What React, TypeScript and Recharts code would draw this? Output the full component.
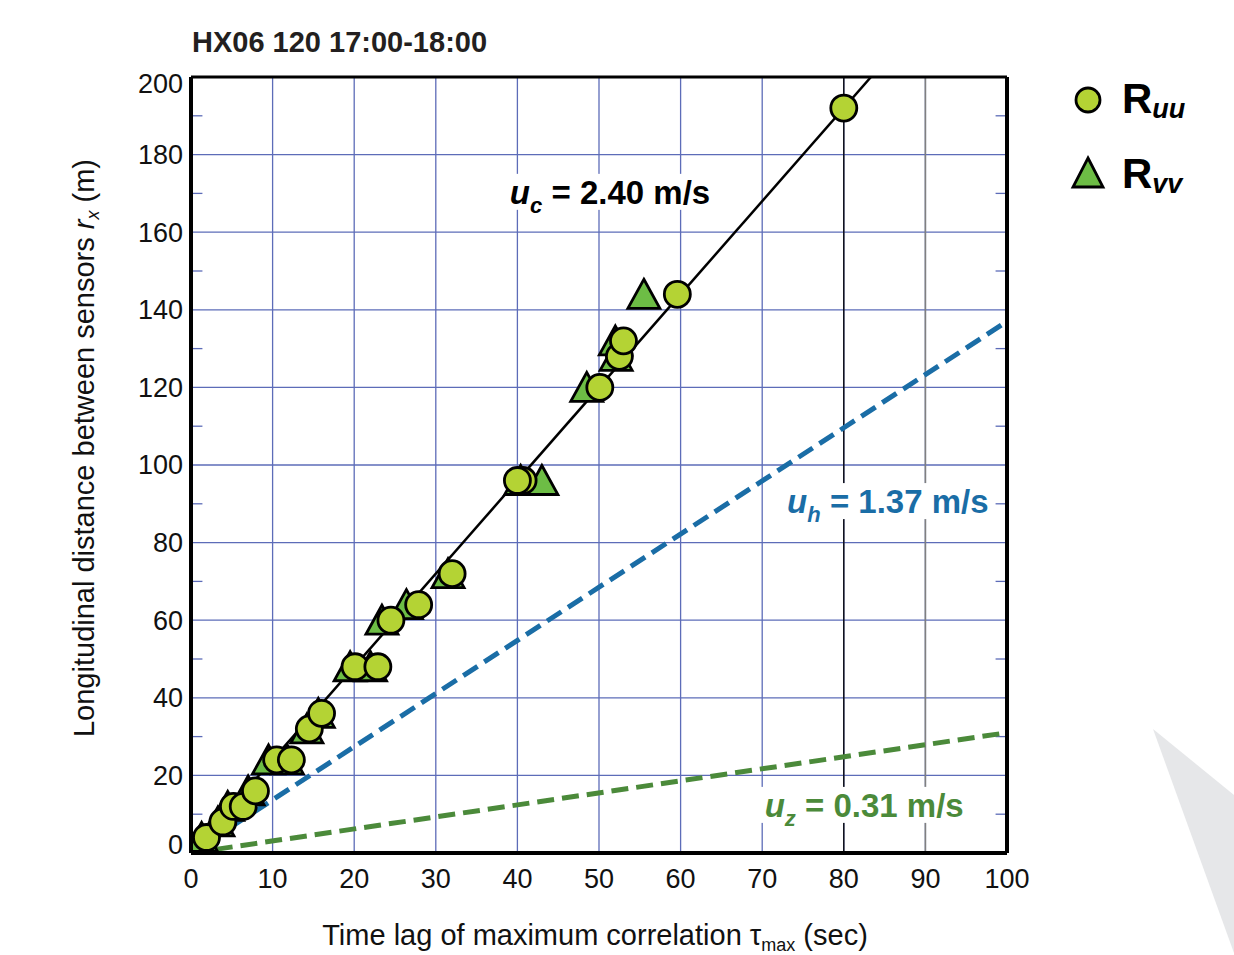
import React from 'react';
import {
  ScatterChart, Scatter, XAxis, YAxis, CartesianGrid, ReferenceLine, ReferenceDot,
} from 'recharts';

// tick values
const xTicks = [0, 10, 20, 30, 40, 50, 60, 70, 80, 90, 100];
const yTicks = [0, 20, 40, 60, 80, 100, 120, 140, 160, 180, 200];
const yMinor = [10, 30, 50, 70, 90, 110, 130, 150, 170, 190];

// R_uu: time lag (s) and sensor separation (m)
const ruuTau = [1.9, 3.9, 5.2, 6.4, 7.9, 10.5, 12.3, 14.5, 16.0, 20.1, 22.9, 24.5, 27.9, 32.0, 40.7, 40.0, 50.1, 52.5, 53.0, 59.6, 80.0];
const ruuRx = [4, 8, 12, 12, 16, 24, 24, 32, 36, 48, 48, 60, 64, 72, 96, 96, 120, 128, 132, 144, 192];

// R_vv
const rvvTau = [1.3, 3.3, 4.5, 7.0, 9.5, 11.8, 14.2, 15.6, 19.5, 22.0, 23.4, 26.4, 31.5, 40.4, 43.0, 48.5, 52.1, 52.0, 55.5];
const rvvRx = [4, 8, 12, 16, 24, 24, 32, 36, 48, 48, 60, 64, 72, 96, 96, 120, 128, 132, 144];

// convection speeds (m/s)
const ucSpeed = 2.40;
const uhSpeed = 1.37;
const uzSpeed = 0.31;

const FONT = '"Liberation Sans", Arial, Helvetica, sans-serif';
const GRID = '#5d6cb8';
const BLUE = '#1a6da6';
const GREEN = '#4b8a3a';

const ruuData = ruuTau.map((t, i) => ({ x: t, y: ruuRx[i] }));
const rvvData = rvvTau.map((t, i) => ({ x: t, y: rvvRx[i] }));
const fitLine = (u: number) => {
  const xEnd = Math.min(100, 200 / u);
  return [{ x: 0, y: 0 }, { x: xEnd, y: u * xEnd }];
};

const Circle = (p: any) => (
  <circle cx={p.cx} cy={p.cy} r={13} fill="#b4d334" stroke="#000" strokeWidth={2.8} />
);

const Triangle = (p: any) => (
  <path
    d={`M${p.cx},${p.cy - 15} L${p.cx + 16},${p.cy + 14} L${p.cx - 16},${p.cy + 14} Z`}
    fill="#6dbd45" stroke="#000" strokeWidth={2.8}
  />
);

const NoShape = () => <g />;

const YTick = (p: any) => {
  const v = p.payload.value;
  const nudge = v === 200 ? 7 : v === 0 ? -8 : 0;
  return (
    <text x={p.x} y={p.y + nudge} dy="0.35em" textAnchor="end" fontSize={27} fill="#111" fontFamily={FONT}>
      {v}
    </text>
  );
};

// speed label with a white box behind it, anchored at a data point
const speedLabel = (sub: string, speed: number, color: string, boxW: number) => (p: any) => {
  const { cx, cy } = p;
  return (
    <g>
      <rect x={cx - boxW / 2} y={cy - 18} width={boxW} height={36} fill="#fff" />
      <text x={cx} y={cy + 12} textAnchor="middle" fill={color} fontFamily={FONT} fontWeight="bold" fontSize={33}>
        <tspan fontStyle="italic">u</tspan>
        <tspan fontStyle="italic" fontSize={22} dy={9}>{sub}</tspan>
        <tspan dy={-9}>{` = ${speed.toFixed(2)} m/s`}</tspan>
      </text>
    </g>
  );
};

const LegendBox = () => (
  <svg width={164} height={130} style={{ fontFamily: FONT, overflow: 'visible' }}>
    <circle cx={18} cy={20} r={12} fill="#b4d334" stroke="#000" strokeWidth={2.8} />
    <text x={52} y={33} fontSize={42} fontWeight="bold" fill="#000">
      R<tspan fontSize={27} fontStyle="italic" dy={5}>uu</tspan>
    </text>
    <path d="M18,78 L33,107 L3,107 Z" fill="#6dbd45" stroke="#000" strokeWidth={2.8} />
    <text x={52} y={108} fontSize={42} fontWeight="bold" fill="#000">
      R<tspan fontSize={27} fontStyle="italic" dy={5}>vv</tspan>
    </text>
  </svg>
);

export default function App() {
  return (
    <div style={{ position: 'absolute', left: 0, top: 0, width: 1234, height: 955, background: '#fff', fontFamily: FONT }}>
      <svg width={1234} height={955} style={{ position: 'absolute', left: 0, top: 0 }}>
        <polygon points="1153,729 1234,795 1234,953" fill="#e6e7e9" />
        <text x={192} y={52} fontSize={29} fontWeight="bold" fill="#231f20">HX06 120 17:00-18:00</text>
      </svg>
      <div style={{ position: 'absolute', left: 0, top: 0 }}>
        <ScatterChart width={1234} height={955} margin={{ top: 77, right: 227, bottom: 72, left: 131 }}>
          <CartesianGrid stroke={GRID} strokeWidth={1.3} />
          <XAxis
            type="number" dataKey="x" domain={[0, 100]} ticks={xTicks} allowDataOverflow
            height={30} tickSize={0} tickMargin={16} axisLine={false}
            tick={{ fontSize: 27, fill: '#111', fontFamily: FONT }}
            label={{
              content: (lp: any) => {
                const vb = lp.viewBox;
                return (
                  <text x={vb.x + vb.width / 2 - 4} y={945} textAnchor="middle" fontSize={29} fill="#111" fontFamily={FONT}>
                    Time lag of maximum correlation τ<tspan fontSize={18} dy={6}>max</tspan><tspan dy={-6}> (sec)</tspan>
                  </text>
                );
              },
            }}
          />
          <YAxis
            type="number" dataKey="y" domain={[0, 200]} ticks={yTicks} allowDataOverflow
            width={60} tickSize={0} tickMargin={8} axisLine={false} tick={<YTick />}
            label={{
              content: () => (
                <text x={0} y={0} transform="translate(94,448) rotate(-90)" textAnchor="middle" fontSize={29} fill="#111" fontFamily={FONT}>
                  Longitudinal distance between sensors <tspan fontStyle="italic">r</tspan>
                  <tspan fontStyle="italic" fontSize={18} dy={5}>x</tspan><tspan dy={-5}> (m)</tspan>
                </text>
              ),
            }}
          />
          <ReferenceLine x={80} stroke="#000" strokeWidth={1.3} zIndex={-50} />
          <ReferenceLine x={90} stroke="#808080" strokeWidth={1.6} zIndex={-50} />
          {yMinor.map((v) => (
            <ReferenceLine key={`l${v}`} segment={[{ x: 0, y: v }, { x: 1.4, y: v }]} stroke={GRID} strokeWidth={1.3} zIndex={-50} />
          ))}
          {yMinor.map((v) => (
            <ReferenceLine key={`r${v}`} segment={[{ x: 98.6, y: v }, { x: 100, y: v }]} stroke={GRID} strokeWidth={1.3} zIndex={-50} />
          ))}
          <ReferenceDot x={51.35} y={170.4} shape={speedLabel('c', ucSpeed, '#000', 214)} zIndex={-40} />
          <ReferenceDot x={85.4} y={90.7} shape={speedLabel('h', uhSpeed, BLUE, 210)} zIndex={-40} />
          <ReferenceDot x={82.5} y={12.4} shape={speedLabel('z', uzSpeed, GREEN, 212)} zIndex={-40} />
          <Scatter
            data={fitLine(uzSpeed)} line={{ stroke: GREEN, strokeWidth: 5, strokeDasharray: '17 8' }}
            lineType="joint" shape={<NoShape />} isAnimationActive={false} legendType="none" zIndex={300}
          />
          <Scatter
            data={fitLine(uhSpeed)} line={{ stroke: BLUE, strokeWidth: 5, strokeDasharray: '17 8' }}
            lineType="joint" shape={<NoShape />} isAnimationActive={false} legendType="none" zIndex={300}
          />
          <Scatter
            data={fitLine(ucSpeed)} line={{ stroke: '#000', strokeWidth: 2.5 }}
            lineType="joint" shape={<NoShape />} isAnimationActive={false} legendType="none" zIndex={300}
          />
          <Scatter name="Rvv" data={rvvData} shape={<Triangle />} isAnimationActive={false} zIndex={610} />
          <Scatter name="Ruu" data={ruuData} shape={<Circle />} isAnimationActive={false} zIndex={620} />
          <ReferenceLine x={0} stroke="#000" strokeWidth={4} zIndex={700} />
          <ReferenceLine y={0} stroke="#000" strokeWidth={4} zIndex={700} />
          <ReferenceLine x={100} stroke="#000" strokeWidth={4} zIndex={700} />
          <ReferenceLine y={200} stroke="#000" strokeWidth={3} zIndex={700} />
        </ScatterChart>
      </div>
      <div style={{ position: 'absolute', left: 1070, top: 80 }}>
        <LegendBox />
      </div>
    </div>
  );
}
